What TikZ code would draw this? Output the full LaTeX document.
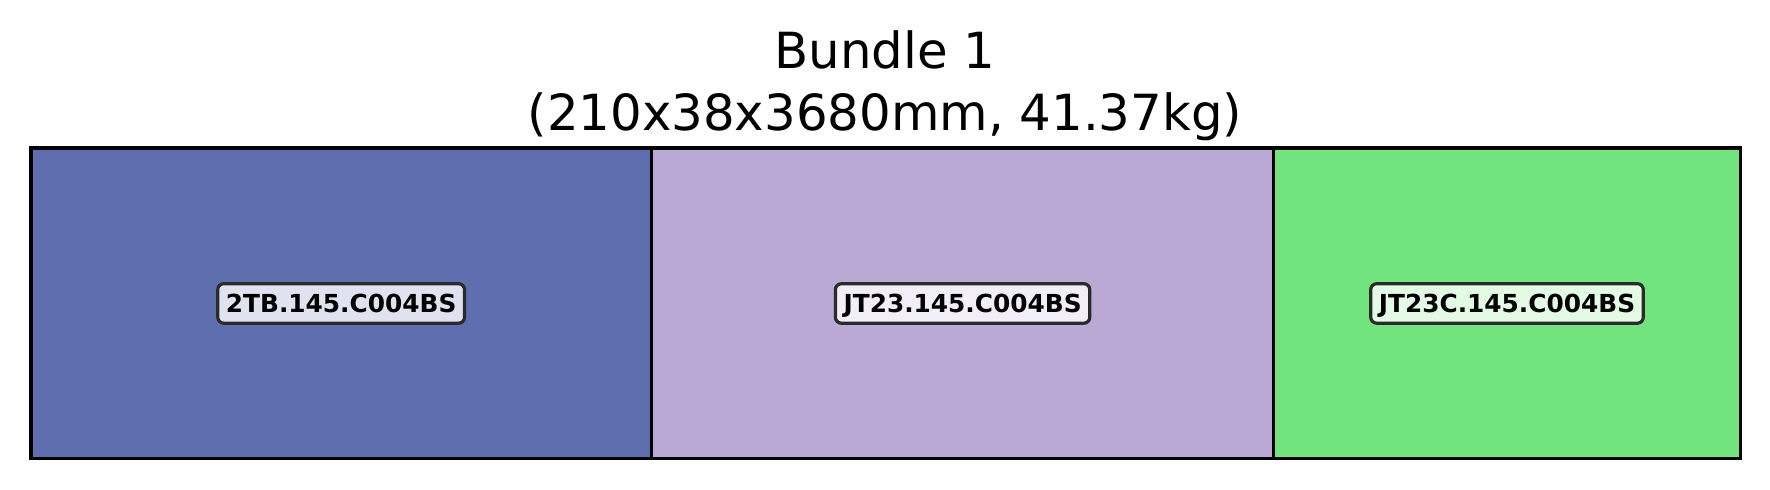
\documentclass[tikz,border=0pt]{standalone}
\usepackage{fontspec}
\setmainfont{DejaVu Sans}
\definecolor{sectA}{HTML}{5F6EAE}
\definecolor{sectB}{HTML}{BBA9D5}
\definecolor{sectC}{HTML}{72E47D}
\definecolor{tagedge}{HTML}{2B2B2B}
\tikzset{
  section/.style={draw=black, line width=1.75pt, rectangle, inner sep=0pt, outer sep=0pt, minimum height=155.25pt},
  tag/.style={draw=tagedge, line width=1.6pt, rounded corners=3pt, inner xsep=4.1pt, inner ysep=0pt,
    minimum height=19.75pt, text height=9.03pt, text depth=0pt,
    font=\fontsize{12.4}{14}\selectfont\bfseries},
  titletext/.style={anchor=base, inner sep=0pt, font=\fontsize{24.9}{29}\selectfont}
}
\begin{document}
\begin{tikzpicture}[x=0.5pt, y=-0.5pt]
\useasboundingbox (0,0) rectangle (1770,489);
\node[titletext] (t1) at (885,68) {Bundle 1};
\node[titletext] (t2) at (885,130) {(210x38x3680mm, 41.37kg)};
\node[section, fill=sectA, minimum width=310.35pt] (s1) at (341.15,303.45) {};
\node[section, fill=sectB, minimum width=311.1pt] (s2) at (962.6,303.45) {};
\node[section, fill=sectC, minimum width=233.3pt] (s3) at (1507,303.45) {};
\node[tag, fill=sectA!20!white] (l1) at (s1.center) {2TB.145.C004BS};
\node[tag, fill=sectB!20!white] (l2) at (s2.center) {JT23.145.C004BS};
\node[tag, fill=sectC!20!white] (l3) at (s3.center) {JT23C.145.C004BS};
\end{tikzpicture}
\end{document}
